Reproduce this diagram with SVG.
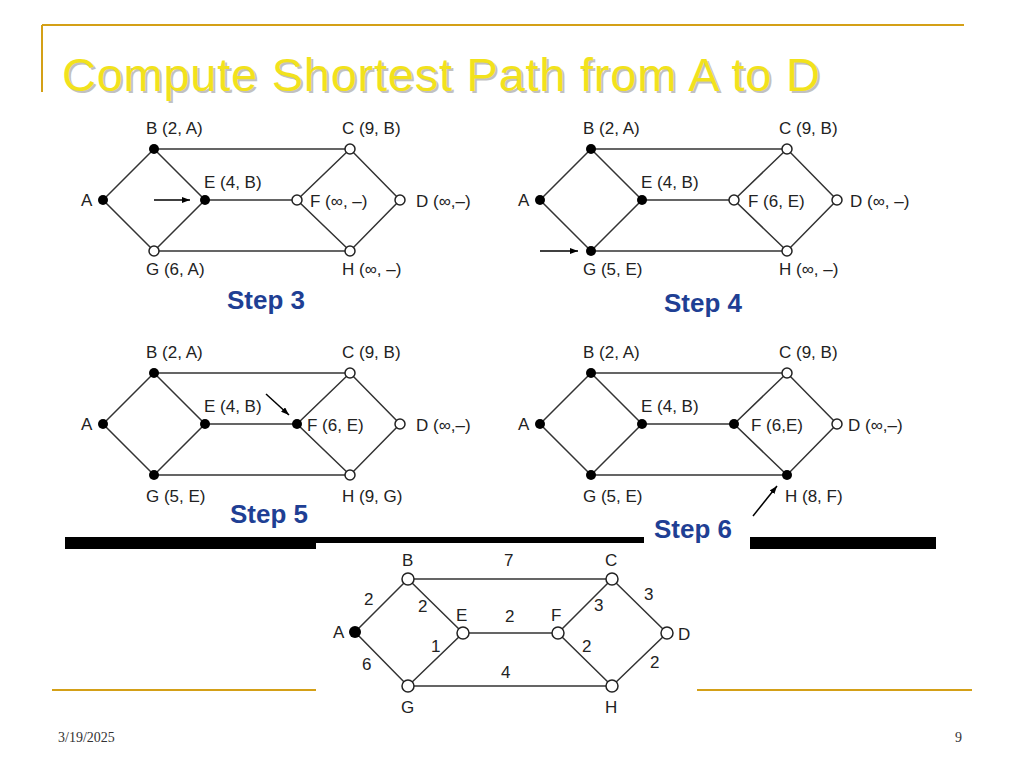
<svg xmlns="http://www.w3.org/2000/svg" width="1024" height="768" viewBox="0 0 1024 768">
<style>
.e{stroke:#333;stroke-width:1.5;fill:none}
.o{fill:#fff;stroke:#222;stroke-width:1.5}
.f{fill:#000}
.t{font-family:"Liberation Sans",Arial,sans-serif;font-size:17px;fill:#222}
.s{font-family:"Liberation Sans",Arial,sans-serif;font-size:26px;font-weight:bold;fill:#1f3f94}
.w{font-family:"Liberation Sans",Arial,sans-serif;font-size:17px;fill:#222}
</style>
<defs>
<marker id="ah" markerWidth="8" markerHeight="6" refX="8" refY="3" orient="auto" markerUnits="userSpaceOnUse"><path d="M0,0 L8,3 L0,6z" fill="#000"/></marker>
<g id="edges">
<path class="e" d="M103,200 L154,149 L205,200 L154,251 Z M154,149 H350 M154,251 H350 M205,200 H297 M297,200 L350,149 L400,200 L350,251 Z"/>
</g>
</defs>
<rect width="1024" height="768" fill="#fff"/>
<path d="M42,25 H964 M42,25 V92" stroke="#d4a017" stroke-width="2" fill="none"/>
<text x="64" y="93" font-family="Liberation Sans,Arial,sans-serif" font-size="47" fill="#999" opacity="0.6" textLength="758">Compute Shortest Path from A to D</text>
<text x="62" y="91" font-family="Liberation Sans,Arial,sans-serif" font-size="47" fill="#f2e21c" textLength="758">Compute Shortest Path from A to D</text>

<g id="step3">
<use href="#edges"/>
<circle class="f" cx="103" cy="200" r="5"/><circle class="f" cx="154" cy="149" r="5"/><circle class="f" cx="205" cy="200" r="5"/>
<circle class="o" cx="154" cy="251" r="5"/><circle class="o" cx="350" cy="149" r="5"/><circle class="o" cx="297" cy="200" r="5"/><circle class="o" cx="400" cy="200" r="5"/><circle class="o" cx="350" cy="251" r="5"/>
<line x1="154" y1="200" x2="190" y2="200" stroke="#000" stroke-width="1.5" marker-end="url(#ah)"/>
<text class="t" x="146" y="134">B (2, A)</text><text class="t" x="342" y="134">C (9, B)</text>
<text class="t" x="81" y="206">A</text><text class="t" x="204" y="188">E (4, B)</text>
<text class="t" x="310" y="207">F (∞, –)</text><text class="t" x="416" y="207">D (∞,–)</text>
<text class="t" x="146" y="275">G (6, A)</text><text class="t" x="342" y="275">H (∞, –)</text>
<text class="s" x="227" y="309">Step 3</text>
</g>

<g id="step4" transform="translate(437,0)">
<use href="#edges"/>
<circle class="f" cx="103" cy="200" r="5"/><circle class="f" cx="154" cy="149" r="5"/><circle class="f" cx="205" cy="200" r="5"/><circle class="f" cx="154" cy="251" r="5"/>
<circle class="o" cx="350" cy="149" r="5"/><circle class="o" cx="297" cy="200" r="5"/><circle class="o" cx="400" cy="200" r="5"/><circle class="o" cx="350" cy="251" r="5"/>
<line x1="103" y1="251" x2="141" y2="251" stroke="#000" stroke-width="1.5" marker-end="url(#ah)"/>
<text class="t" x="146" y="134">B (2, A)</text><text class="t" x="342" y="134">C (9, B)</text>
<text class="t" x="81" y="206">A</text><text class="t" x="204" y="188">E (4, B)</text>
<text class="t" x="311" y="207">F (6, E)</text><text class="t" x="413" y="207">D (∞, –)</text>
<text class="t" x="146" y="275">G (5, E)</text><text class="t" x="342" y="275">H (∞, –)</text>
<text class="s" x="227" y="312">Step 4</text>
</g>

<g id="step5" transform="translate(0,224)">
<use href="#edges"/>
<circle class="f" cx="103" cy="200" r="5"/><circle class="f" cx="154" cy="149" r="5"/><circle class="f" cx="205" cy="200" r="5"/><circle class="f" cx="154" cy="251" r="5"/><circle class="f" cx="297" cy="200" r="5"/>
<circle class="o" cx="350" cy="149" r="5"/><circle class="o" cx="400" cy="200" r="5"/><circle class="o" cx="350" cy="251" r="5"/>
<line x1="266" y1="170" x2="289" y2="191" stroke="#000" stroke-width="1.5" marker-end="url(#ah)"/>
<text class="t" x="146" y="134">B (2, A)</text><text class="t" x="342" y="134">C (9, B)</text>
<text class="t" x="81" y="206">A</text><text class="t" x="204" y="188">E (4, B)</text>
<text class="t" x="307" y="207">F (6, E)</text><text class="t" x="416" y="207">D (∞,–)</text>
<text class="t" x="146" y="278">G (5, E)</text><text class="t" x="342" y="278">H (9, G)</text>
</g>

<g id="step6" transform="translate(437,224)">
<use href="#edges"/>
<circle class="f" cx="103" cy="200" r="5"/><circle class="f" cx="154" cy="149" r="5"/><circle class="f" cx="205" cy="200" r="5"/><circle class="f" cx="154" cy="251" r="5"/><circle class="f" cx="297" cy="200" r="5"/><circle class="f" cx="350" cy="251" r="5"/>
<circle class="o" cx="350" cy="149" r="5"/><circle class="o" cx="400" cy="200" r="5"/>
<line x1="316" y1="292" x2="340" y2="262" stroke="#000" stroke-width="1.5" marker-end="url(#ah)"/>
<text class="t" x="146" y="134">B (2, A)</text><text class="t" x="342" y="134">C (9, B)</text>
<text class="t" x="81" y="206">A</text><text class="t" x="204" y="188">E (4, B)</text>
<text class="t" x="314" y="207">F (6,E)</text><text class="t" x="411" y="207">D (∞,–)</text>
<text class="t" x="146" y="278">G (5, E)</text><text class="t" x="348" y="278">H (8, F)</text>
</g>

<rect x="65" y="537" width="251" height="12" fill="#000"/>
<rect x="316" y="537" width="328" height="6" fill="#000"/>
<rect x="750" y="537" width="186" height="12" fill="#000"/>
<text class="s" x="230" y="523">Step 5</text>
<text class="s" x="654" y="538">Step 6</text>

<path d="M52,690 H316 M697,690 H972" stroke="#d4a017" stroke-width="2"/>

<g id="base">
<path class="e" d="M355,632 L408,579 L463,633 L408,686 Z M408,579 H612 M408,686 H612 M463,633 H558 M558,633 L612,579 L667,633 L612,686 Z"/>
<circle class="f" cx="355" cy="632" r="6"/>
<circle class="o" cx="408" cy="579" r="6"/><circle class="o" cx="463" cy="633" r="6"/><circle class="o" cx="408" cy="686" r="6"/>
<circle class="o" cx="612" cy="579" r="6"/><circle class="o" cx="558" cy="633" r="6"/><circle class="o" cx="667" cy="633" r="6"/><circle class="o" cx="612" cy="686" r="6"/>
<text class="w" x="402" y="566">B</text><text class="w" x="605" y="566">C</text><text class="w" x="333" y="638">A</text>
<text class="w" x="456" y="621">E</text><text class="w" x="551" y="621">F</text><text class="w" x="678" y="640">D</text>
<text class="w" x="401" y="713">G</text><text class="w" x="605" y="713">H</text>
<text class="w" x="504" y="566">7</text><text class="w" x="364" y="605">2</text><text class="w" x="418" y="612">2</text>
<text class="w" x="505" y="622">2</text><text class="w" x="431" y="652">1</text><text class="w" x="362" y="670">6</text>
<text class="w" x="501" y="678">4</text><text class="w" x="594" y="611">3</text><text class="w" x="644" y="600">3</text>
<text class="w" x="582" y="652">2</text><text class="w" x="650" y="668">2</text>
</g>

<text x="58" y="742" font-family="Liberation Serif,serif" font-size="14" fill="#333">3/19/2025</text>
<text x="955" y="742" font-family="Liberation Serif,serif" font-size="14" fill="#333">9</text>
</svg>
